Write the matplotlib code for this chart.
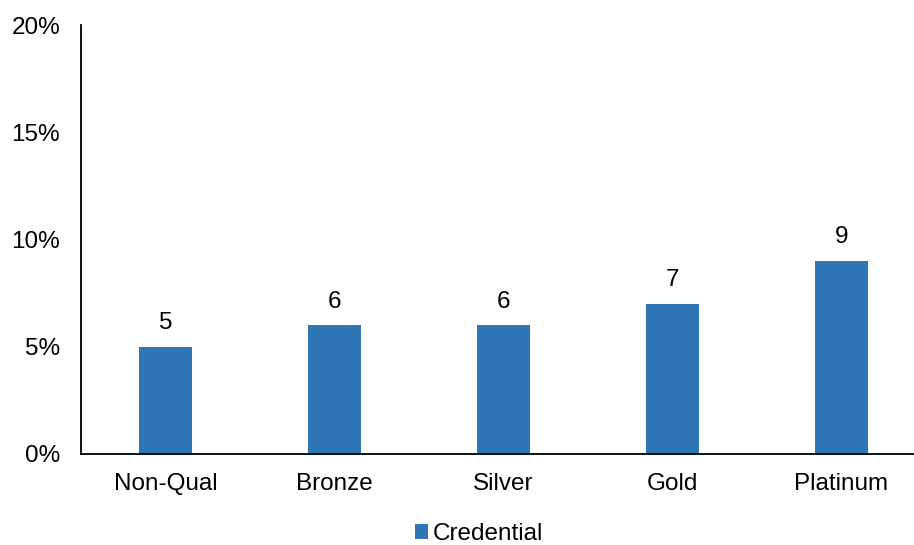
import matplotlib
matplotlib.use("Agg")
import matplotlib.pyplot as plt
from matplotlib.patches import Patch

categories = ["Non-Qual", "Bronze", "Silver", "Gold", "Platinum"]
values = [5, 6, 6, 7, 9]
labels = ["5", "6", "6", "7", "9"]
yticks = [0, 5, 10, 15, 20]
ytick_labels = ["0%", "5%", "10%", "15%", "20%"]
series_name = "Credential"

plt.rcParams["font.family"] = ["Liberation Sans", "DejaVu Sans"]
color = "#2E75B6"
fs = 17.5

W, H = 914, 545
fig = plt.figure(figsize=(W / 100, H / 100), dpi=100)
left, right, top, bottom = 81, 926, 25, 454
ax = fig.add_axes([left / W, 1 - bottom / H, (right - left) / W, (bottom - top) / H])

x = list(range(len(categories)))
ax.bar(x, values, width=0.31, color=color, zorder=2)
for xi, v, lab in zip(x, values, labels):
    ax.annotate(lab, (xi, v), xytext=(0, 9), textcoords="offset points",
                ha="center", va="bottom", fontsize=fs, color="black")

ax.set_xlim(-0.5, len(categories) - 0.5)
ax.set_ylim(0, 20)
ax.set_yticks(yticks)
ax.set_yticklabels(ytick_labels)
ax.set_xticks(x)
ax.set_xticklabels(categories)
ax.tick_params(axis="both", length=0, labelsize=fs, colors="black")
ax.tick_params(axis="y", pad=15)
ax.tick_params(axis="x", pad=14)
for s in ["top", "right"]:
    ax.spines[s].set_visible(False)
for s in ["left", "bottom"]:
    ax.spines[s].set_linewidth(1.3)
    ax.spines[s].set_color("black")

handles = [Patch(facecolor=color, edgecolor="none", label=series_name)]
fig.legend(handles=handles, loc="center", bbox_to_anchor=(479 / W, 1 - 534 / H),
           frameon=False, fontsize=fs, handlelength=0.55, handleheight=0.55,
           handletextpad=0.2, borderpad=0)

fig.savefig("out.png", dpi=100)
